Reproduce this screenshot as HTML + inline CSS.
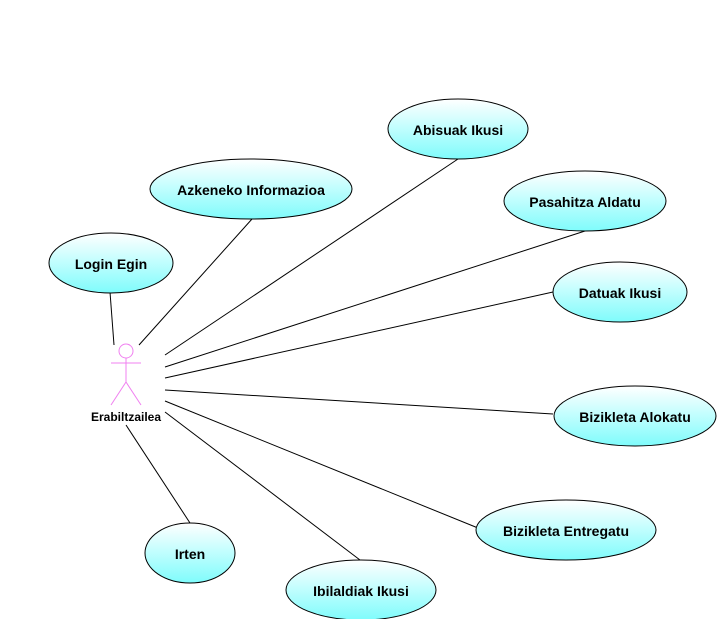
<!DOCTYPE html>
<html><head><meta charset="utf-8"><style>html,body{margin:0;padding:0;background:#fff;}svg{display:block}</style></head><body>
<svg width="717" height="619" xmlns="http://www.w3.org/2000/svg" font-family="Liberation Sans, sans-serif" font-weight="bold" font-size="14">
<defs><linearGradient id="g" x1="0" y1="0" x2="0" y2="1"><stop offset="0" stop-color="#ffffff"/><stop offset="1" stop-color="#7ffcfc"/></linearGradient></defs>
<g stroke="#000" stroke-width="1">
<line x1="110" y1="292" x2="114" y2="345"/>
<line x1="139" y1="345" x2="252" y2="219"/>
<line x1="165" y1="355" x2="458" y2="159"/>
<line x1="165" y1="367" x2="585" y2="231"/>
<line x1="165" y1="378" x2="553" y2="292"/>
<line x1="165" y1="390" x2="553" y2="414"/>
<line x1="165" y1="401" x2="478" y2="528"/>
<line x1="165" y1="412" x2="360" y2="560"/>
<line x1="126" y1="425" x2="190" y2="523"/>
</g>
<g fill="url(#g)" stroke="#000" stroke-width="1">
<ellipse cx="111" cy="263" rx="62" ry="30"/>
<ellipse cx="251" cy="189" rx="101" ry="30"/>
<ellipse cx="458" cy="129" rx="70" ry="30"/>
<ellipse cx="585" cy="201" rx="81" ry="30"/>
<ellipse cx="620" cy="292" rx="67" ry="30"/>
<ellipse cx="635" cy="416" rx="81" ry="30"/>
<ellipse cx="566" cy="530" rx="90" ry="30"/>
<ellipse cx="361" cy="590" rx="75" ry="30"/>
<ellipse cx="190" cy="553" rx="45" ry="30"/>
</g>
<g text-anchor="middle" fill="#000">
<text x="111" y="269">Login Egin</text>
<text x="251" y="195">Azkeneko Informazioa</text>
<text x="458" y="135">Abisuak Ikusi</text>
<text x="585" y="207">Pasahitza Aldatu</text>
<text x="620" y="298">Datuak Ikusi</text>
<text x="635" y="422">Bizikleta Alokatu</text>
<text x="566" y="536">Bizikleta Entregatu</text>
<text x="361" y="596">Ibilaldiak Ikusi</text>
<text x="190" y="559">Irten</text>
<text x="126" y="421" font-size="12">Erabiltzailea</text>
</g>
<g stroke="#f080f0" stroke-width="1" fill="none">
<circle cx="126" cy="351" r="7"/>
<line x1="111" y1="363" x2="141" y2="363"/>
<line x1="126" y1="358" x2="126" y2="382"/>
<line x1="126" y1="382" x2="111" y2="405"/>
<line x1="126" y1="382" x2="141" y2="405"/>
</g>
</svg>
</body></html>
